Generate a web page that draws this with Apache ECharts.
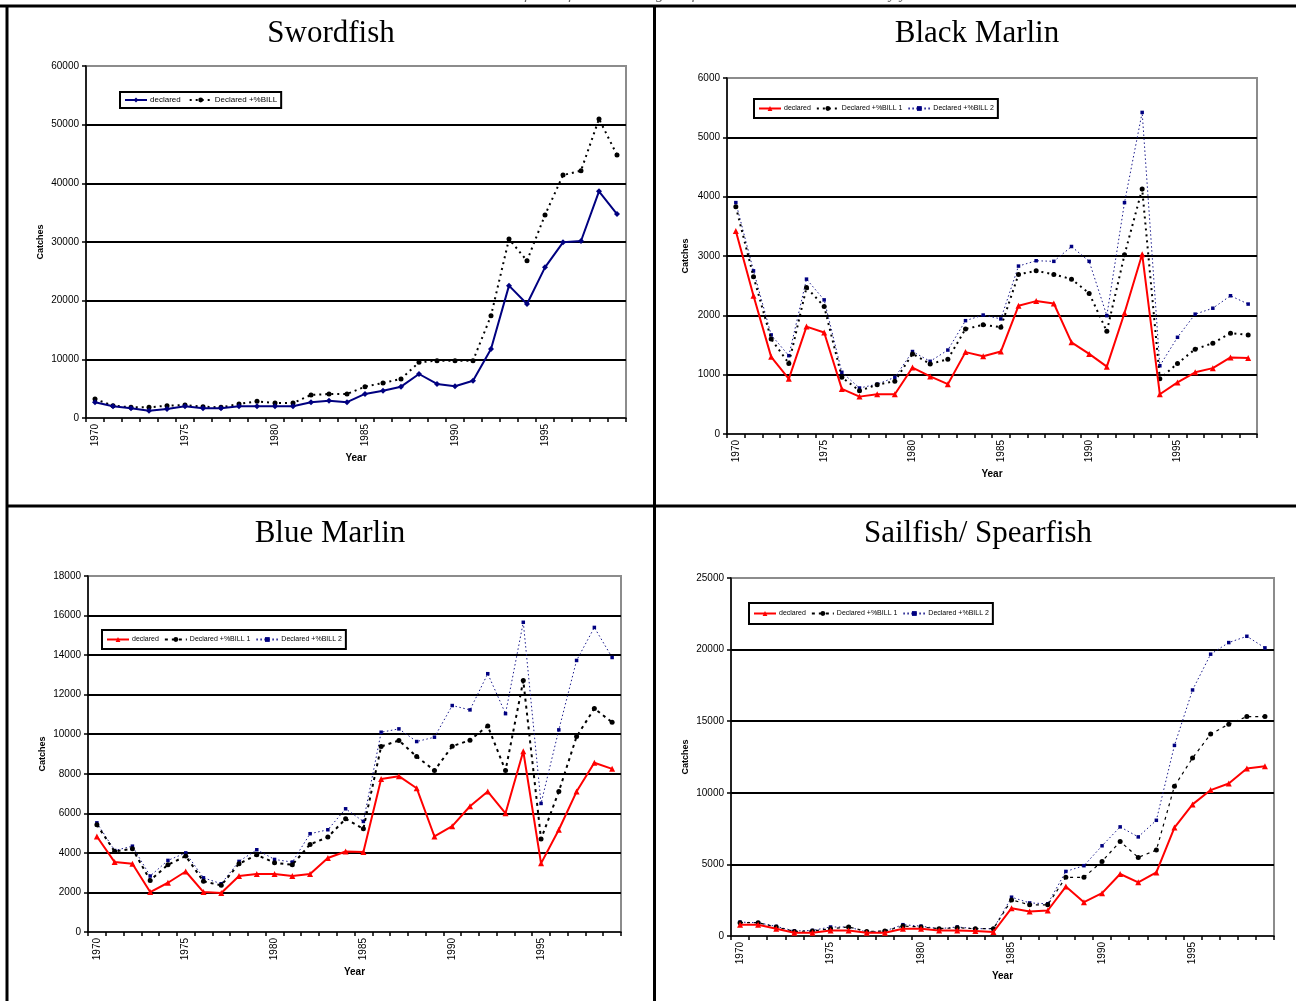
<!DOCTYPE html>
<html><head><meta charset="utf-8">
<script src="https://cdn.jsdelivr.net/npm/echarts@6/dist/echarts.min.js"></script>
<style>html,body{margin:0;padding:0;background:#fff}#c{width:1296px;height:1001px}</style>
</head><body><div id="c"></div>
<script>
const years = ['1970','1971','1972','1973','1974','1975','1976','1977','1978','1979','1980','1981','1982','1983','1984','1985','1986','1987','1988','1989','1990','1991','1992','1993','1994','1995','1996','1997','1998','1999'];

const panelTitles = ['Swordfish','Black Marlin','Blue Marlin','Sailfish/ Spearfish'];
const caption = 'Catch series estimated for billfish in the longline fleet: declared and corrected by year';

const swordfishDeclared = [2700,2000,1650,1250,1530,2000,1650,1650,2000,2000,2000,2000,2700,2950,2700,4100,4650,5340,7500,5800,5400,6360,11760,22560,19430,25680,29940,30170,38640,34770];
const swordfishBill = [3240,2100,1820,1820,2100,2200,1930,1820,2390,2840,2560,2560,3920,4100,4100,5340,5970,6650,9490,9770,9770,9770,17440,30500,26800,34600,41400,42160,50970,44830];

const blackDeclared = [3420,2330,1300,930,1810,1710,760,630,670,670,1120,970,840,1380,1310,1390,2160,2240,2200,1545,1350,1135,2040,3030,670,870,1040,1110,1290,1280];
const blackBill1 = [3830,2650,1600,1190,2470,2150,955,730,830,890,1350,1180,1260,1770,1840,1800,2690,2750,2690,2610,2370,1730,3020,4130,930,1190,1430,1530,1700,1670];
const blackBill2 = [3900,2750,1670,1320,2610,2260,1040,775,840,955,1390,1225,1415,1910,2005,1940,2830,2920,2910,3160,2910,1995,3900,5420,1150,1630,2020,2120,2330,2190];

const blueDeclared = [4830,3535,3450,2020,2490,3060,2020,1970,2830,2930,2930,2830,2930,3740,4070,4040,7740,7880,7270,4830,5350,6360,7100,6000,9140,3470,5170,7100,8560,8250];
const blueBill1 = [5420,4070,4210,2610,3400,3840,2560,2360,3450,3900,3500,3400,4430,4800,5720,5220,9380,9680,8870,8165,9390,9700,10420,8160,12710,4700,7100,9880,11300,10600];
const blueBill2 = [5520,4120,4340,2830,3620,4000,2740,2440,3570,4160,3670,3535,4970,5170,6230,5590,10100,10270,9630,9850,11450,11230,13060,11040,15660,6500,10220,13730,15400,13880];

const sailDeclared = [790,790,510,230,230,390,390,230,230,510,510,390,390,350,280,1940,1710,1780,3450,2360,2990,4330,3750,4440,7570,9190,10190,10650,11690,11850];
const sailBill1 = [930,930,630,320,350,510,630,320,350,690,630,510,580,510,510,2520,2180,2180,4100,4100,5210,6600,5490,6000,10460,12430,14100,14790,15320,15320];
const sailBill2 = [970,930,670,350,390,630,630,280,350,790,690,510,630,510,510,2710,2310,2250,4510,4910,6300,7620,6920,8080,13310,17180,19680,20490,20930,20120];

const yMax = [60000, 6000, 18000, 25000];
const yStep = [10000, 1000, 2000, 5000];

const legendLabels = {
  sw_d: 'declared', sw_b: 'Declared +%BILL',
  bk_d: 'declared', bk_1: 'Declared +%BILL 1', bk_2: 'Declared +%BILL 2',
  bl_d: 'declared', bl_1: 'Declared +%BILL 1', bl_2: 'Declared +%BILL 2',
  sf_d: 'declared', sf_1: 'Declared +%BILL 1', sf_2: 'Declared +%BILL 2'
};

const SANS = '"Liberation Sans", Arial, sans-serif';
const SERIF = '"Liberation Serif", "Times New Roman", serif';

const grids = [
  {left: 86, top: 66, width: 540, height: 352},
  {left: 727, top: 78, width: 530, height: 356},
  {left: 88, top: 576, width: 533, height: 356},
  {left: 731, top: 578, width: 543, height: 358}
].map(g => Object.assign({show: true, borderColor: '#8c8c8c', borderWidth: 2, backgroundColor: '#fff'}, g));

const yNameGap = [41, 37, 41, 41];

const xAxes = grids.map((g, i) => ({
  type: 'category', gridIndex: i, data: years, boundaryGap: true,
  axisLine: {show: true, lineStyle: {color: '#000', width: 1.5}},
  axisTick: {show: true, interval: 0, length: 4, lineStyle: {color: '#000', width: 1.5}},
  axisLabel: {interval: 4, rotate: 90, fontSize: 10, fontFamily: SANS, color: '#000', margin: 6},
  name: 'Year', nameLocation: 'middle', nameGap: 35,
  nameTextStyle: {fontWeight: 'bold', fontSize: 10, fontFamily: SANS, color: '#000'}
}));

const yAxes = grids.map((g, i) => ({
  type: 'value', gridIndex: i, min: 0, max: yMax[i], interval: yStep[i],
  axisLine: {show: true, lineStyle: {color: '#000', width: 1.5}},
  axisTick: {show: true, length: 4, lineStyle: {color: '#000', width: 1.5}},
  axisLabel: {fontSize: 10, fontFamily: SANS, color: '#000', margin: 7, formatter: v => String(v)},
  splitLine: {show: true, showMaxLine: false, showMinLine: false, lineStyle: {color: '#000', width: 2}},
  name: 'Catches', nameLocation: 'middle', nameGap: yNameGap[i], nameRotate: 90,
  nameTextStyle: {fontWeight: 'bold', fontSize: 9, fontFamily: SANS, color: '#000'}
}));

function legend(left, top, names, fs, gap, pad) {
  return {
    left: left, top: top, orient: 'horizontal', data: names,
    formatter: n => legendLabels[n],
    borderColor: '#000', borderWidth: 2, backgroundColor: '#fff', borderRadius: 0,
    padding: pad, itemGap: gap, itemWidth: 22, itemHeight: 6, selectedMode: false,
    textStyle: {fontSize: fs, fontFamily: SANS, color: '#000', padding: [0, 0, 0, -2]}
  };
}

function declared(name, idx, data, color, symbol) {
  return {
    name: name, type: 'line', xAxisIndex: idx, yAxisIndex: idx, data: data, z: 5,
    symbol: symbol, symbolSize: 6,
    lineStyle: {color: color, width: 2}, itemStyle: {color: color}
  };
}
function bill1(name, idx, data, dash) {
  return {
    name: name, type: 'line', xAxisIndex: idx, yAxisIndex: idx, data: data, z: 4,
    symbol: 'circle', symbolSize: 5,
    lineStyle: {color: '#000', width: 2, type: dash}, itemStyle: {color: '#000'}
  };
}
function bill2(name, idx, data) {
  return {
    name: name, type: 'line', xAxisIndex: idx, yAxisIndex: idx, data: data, z: 3,
    symbol: 'rect', symbolSize: 3.5,
    lineStyle: {color: '#1a1a8c', width: 1, type: [1.5, 2.5]}, itemStyle: {color: '#000080'}
  };
}

const series = [
  declared('sw_d', 0, swordfishDeclared, '#000080', 'diamond'),
  bill1('sw_b', 0, swordfishBill, [2, 4]),
  declared('bk_d', 1, blackDeclared, '#ff0000', 'triangle'),
  bill1('bk_1', 1, blackBill1, [2, 4]),
  bill2('bk_2', 1, blackBill2),
  declared('bl_d', 2, blueDeclared, '#ff0000', 'triangle'),
  bill1('bl_1', 2, blueBill1, [3, 4]),
  bill2('bl_2', 2, blueBill2),
  declared('sf_d', 3, sailDeclared, '#ff0000', 'triangle'),
  bill1('sf_1', 3, sailBill1, [3, 4]),
  bill2('sf_2', 3, sailBill2)
];
series[9].lineStyle.width = 1.2;

const titlePos = [[331, 34], [977, 34], [330, 534], [978, 534]];
const graphic = [
  {type: 'text', z: 50, style: {text: caption, x: 652, y: 2, textAlign: 'center', textVerticalAlign: 'bottom', font: 'italic 16px ' + SERIF, fill: '#666'}},
  {type: 'line', z: 60, shape: {x1: 0, y1: 6, x2: 1296, y2: 6}, style: {stroke: '#000', lineWidth: 3}},
  {type: 'line', z: 60, shape: {x1: 7, y1: 6, x2: 7, y2: 1001}, style: {stroke: '#000', lineWidth: 3}},
  {type: 'line', z: 60, shape: {x1: 654.5, y1: 6, x2: 654.5, y2: 1001}, style: {stroke: '#000', lineWidth: 3}},
  {type: 'line', z: 60, shape: {x1: 7, y1: 506, x2: 1296, y2: 506}, style: {stroke: '#000', lineWidth: 3}}
].concat(panelTitles.map((t, i) => ({
  type: 'text', z: 50,
  style: {text: t, x: titlePos[i][0], y: titlePos[i][1], textAlign: 'center', textVerticalAlign: 'middle', font: '31px ' + SERIF, fill: '#000'}
})));

const chart = echarts.init(document.getElementById('c'), null, {renderer: 'canvas'});
chart.setOption({
  animation: false,
  backgroundColor: '#fff',
  grid: grids,
  xAxis: xAxes,
  yAxis: yAxes,
  legend: [
    legend(120, 92, ['sw_d', 'sw_b'], 8, 8, [4, 4]),
    legend(754, 99, ['bk_d', 'bk_1', 'bk_2'], 7, 5, [6, 4]),
    legend(102, 630, ['bl_d', 'bl_1', 'bl_2'], 7, 5, [6, 4]),
    legend(749, 603, ['sf_d', 'sf_1', 'sf_2'], 7, 5, [7, 4])
  ],
  series: series,
  graphic: graphic
});
</script></body></html>
